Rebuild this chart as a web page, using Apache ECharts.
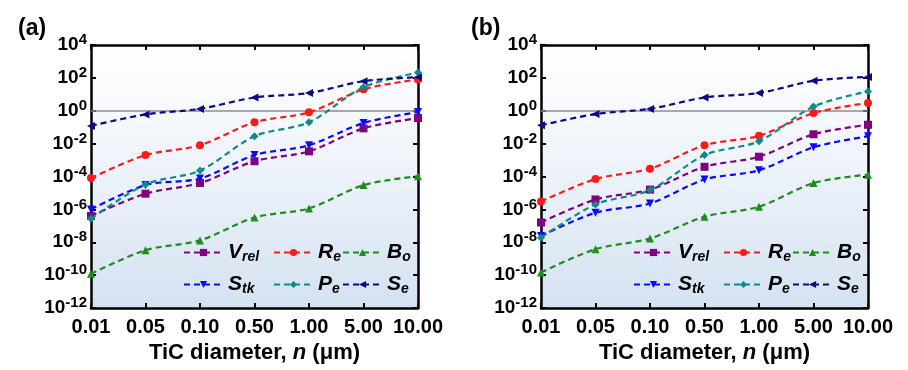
<!DOCTYPE html>
<html>
<head>
<meta charset="utf-8">
<script src="https://cdn.jsdelivr.net/npm/echarts@6/dist/echarts.min.js"></script>
<style>html,body{margin:0;padding:0;background:#fff}#c{width:908px;height:370px}</style>
</head>
<body>
<div id="c"></div>
<script>
// ---- data ----
const categories = ['0.01', '0.05', '0.10', '0.50', '1.00', '5.00', '10.00'];
const yTicks = [1e-12, 1e-10, 1e-8, 1e-6, 1e-4, 1e-2, 1, 1e2, 1e4];

// panel (a)
const a_Vrel = [4e-7, 9e-6, 4e-5, 8.5e-4, 3.4e-3, 0.085, 0.36];
const a_Re   = [8e-5, 2e-3, 8e-3, 0.2, 0.8, 20, 80];
const a_Bo   = [1.2e-10, 3.3e-9, 1.3e-8, 3.2e-7, 1.15e-6, 3e-5, 1.05e-4];
const a_Stk  = [1e-6, 3e-5, 7.6e-5, 2e-3, 8e-3, 0.18, 0.83];
const a_Pe   = [2.7e-7, 3.3e-5, 2.3e-4, 0.028, 0.2, 27, 210];
const a_Se   = [0.12, 0.6, 1.3, 6.4, 12, 63, 110];

// panel (b)
const b_Vrel = [1.6e-7, 4e-6, 1.6e-5, 3.9e-4, 1.6e-3, 0.037, 0.14];
const b_Re   = [3e-6, 7e-5, 3e-4, 8e-3, 0.03, 0.72, 3];
const b_Bo   = [1.45e-10, 3.8e-9, 1.7e-8, 3.6e-7, 1.45e-6, 4e-5, 1.3e-4];
const b_Stk  = [2.4e-8, 6.3e-7, 2.3e-6, 6.6e-5, 2.4e-4, 6e-3, 0.028];
const b_Pe   = [1.9e-8, 2e-6, 1.5e-5, 2e-3, 0.014, 1.8, 15];
const b_Se   = [0.13, 0.63, 1.3, 6.4, 12, 66, 115];

const seriesDefs = [
  {name: 'Vrel', color: '#800080', symbol: 'rect', rot: 0, a: a_Vrel, b: b_Vrel, main: 'V', sub: 'rel'},
  {name: 'Re',   color: '#ff1a1a', symbol: 'circle', rot: 0, a: a_Re, b: b_Re, main: 'R', sub: 'e'},
  {name: 'Bo',   color: '#1e8c1e', symbol: 'triangle', rot: 0, a: a_Bo, b: b_Bo, main: 'B', sub: 'o'},
  {name: 'Stk',  color: '#0a0aff', symbol: 'triangle', rot: 180, a: a_Stk, b: b_Stk, main: 'S', sub: 'tk'},
  {name: 'Pe',   color: '#0e8a8a', symbol: 'diamond', rot: 0, a: a_Pe, b: b_Pe, main: 'P', sub: 'e'},
  {name: 'Se',   color: '#0b0b85', symbol: 'triangle', rot: 90, a: a_Se, b: b_Se, main: 'S', sub: 'e'}
];

// ---- layout ----
const FONT = 'Liberation Sans';
const grids = [
  {left: 91, top: 45, width: 327, height: 263},
  {left: 541, top: 45, width: 327, height: 263}
];
const bgGrad = {type: 'linear', x: 0, y: 0, x2: 0, y2: 1,
  colorStops: [{offset: 0, color: '#ffffff'}, {offset: 0.4, color: '#f1f5fb'}, {offset: 1, color: '#d4e2f1'}]};

const xAxes = [], yAxes = [], series = [], legends = [];
grids.forEach((g, gi) => {
  xAxes.push({
    type: 'category', gridIndex: gi, data: categories, boundaryGap: false, position: 'bottom',
    axisLine: {lineStyle: {color: '#000', width: 2.5}},
    axisTick: {inside: true, length: 5, lineStyle: {width: 2, color: '#000'}},
    axisLabel: {fontFamily: FONT, fontWeight: 'bold', fontSize: 20, color: '#000', margin: 9, interval: 0},
    name: '{t|TiC diameter, }{i|n}{t| (μm)}', nameLocation: 'middle', nameGap: 29,
    nameTextStyle: {rich: {
      t: {fontFamily: FONT, fontWeight: 'bold', fontSize: 22, color: '#000'},
      i: {fontFamily: FONT, fontWeight: 'bold', fontStyle: 'italic', fontSize: 22, color: '#000'}
    }},
    splitLine: {show: false}
  });
  xAxes.push({
    type: 'category', gridIndex: gi, data: categories, boundaryGap: false, position: 'top',
    axisLine: {lineStyle: {color: '#000', width: 2.5}},
    axisTick: {inside: true, length: 5, lineStyle: {width: 2, color: '#000'}},
    axisLabel: {show: false}, splitLine: {show: false}
  });
  yAxes.push({
    type: 'log', logBase: 10, gridIndex: gi, min: 1e-12, max: 1e4, interval: 2, position: 'left',
    axisLine: {show: true, lineStyle: {color: '#000', width: 2.5}},
    axisTick: {show: true, inside: true, length: 5, lineStyle: {width: 2, color: '#000'}},
    axisLabel: {
      margin: 4,
      formatter: v => {
        const e = Math.round(Math.log10(v));
        return '{b|10}{e|' + e + '}';
      },
      rich: {
        b: {fontFamily: FONT, fontWeight: 'bold', fontSize: 19, color: '#000'},
        e: {fontFamily: FONT, fontWeight: 'bold', fontSize: 15, color: '#000', padding: [0, 0, 10, 0]}
      }
    },
    splitLine: {show: false}
  });
  yAxes.push({
    type: 'log', logBase: 10, gridIndex: gi, min: 1e-12, max: 1e4, interval: 2, position: 'right',
    axisLine: {show: true, lineStyle: {color: '#000', width: 2.5}},
    axisTick: {show: true, inside: true, length: 5, lineStyle: {width: 2, color: '#000'}},
    axisLabel: {show: false}, splitLine: {show: false}
  });

  seriesDefs.forEach((s, si) => {
    const ser = {
      name: s.name, type: 'line', xAxisIndex: gi * 2, yAxisIndex: gi * 2,
      data: gi === 0 ? s.a : s.b,
      smooth: 0.3, symbol: s.symbol, symbolRotate: s.rot, symbolSize: 8,
      lineStyle: {type: [6, 4], width: 2.2, color: s.color},
      itemStyle: {color: s.color},
      z: 3 + si
    };
    if (si === 0) {
      ser.markLine = {
        silent: true, symbol: 'none', label: {show: false},
        lineStyle: {color: '#8c8c8c', type: 'solid', width: 1.5},
        data: [{yAxis: 1}], z: 1
      };
    }
    series.push(ser);
  });

  // legend: 2 rows x 3 columns
  const colX = [92, 182, 251];
  const rowY = [242, 274];
  seriesDefs.forEach((s, si) => {
    legends.push({
      data: [s.name], left: g.left + colX[si % 3], top: rowY[Math.floor(si / 3)],
      orient: 'horizontal', itemWidth: 39, itemHeight: 9, padding: 0, selectedMode: false,
      formatter: () => '{m|' + s.main + '}{s|' + s.sub + '}',
      textStyle: {
        rich: {
          m: {fontFamily: FONT, fontWeight: 'bold', fontStyle: 'italic', fontSize: 21, color: '#000'},
          s: {fontFamily: FONT, fontWeight: 'bold', fontStyle: 'italic', fontSize: 14, color: '#000', padding: [10, 0, 0, 0]}
        }
      }
    });
  });
});

const option = {
  animation: false,
  backgroundColor: '#ffffff',
  title: [
    {text: '(a)', left: 13, top: 12, textStyle: {fontFamily: FONT, fontWeight: 'bold', fontSize: 23, color: '#000'}},
    {text: '(b)', left: 466, top: 12, textStyle: {fontFamily: FONT, fontWeight: 'bold', fontSize: 23, color: '#000'}}
  ],
  grid: grids.map(g => Object.assign({show: true, backgroundColor: bgGrad, borderWidth: 0}, g)),
  xAxis: xAxes,
  yAxis: yAxes,
  legend: legends,
  series: series
};

const chart = echarts.init(document.getElementById('c'), null, {renderer: 'canvas'});
chart.setOption(option);
</script>
</body>
</html>
